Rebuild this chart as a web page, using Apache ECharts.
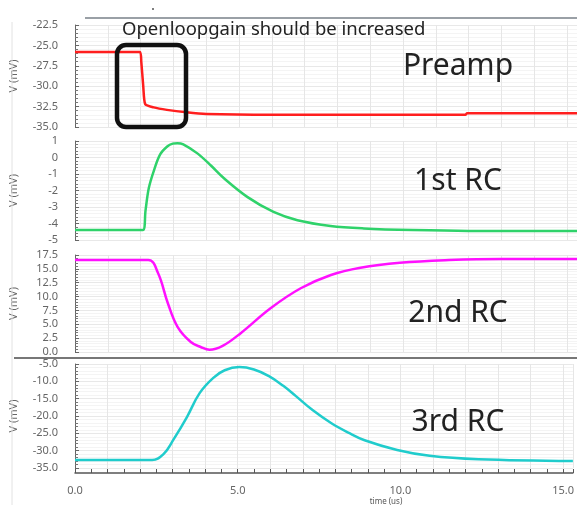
<!DOCTYPE html>
<html><head><meta charset="utf-8">
<script src="https://cdn.jsdelivr.net/npm/echarts@6/dist/echarts.min.js"></script>
<style>html,body{margin:0;padding:0;background:#fff}#c{width:577px;height:505px}</style>
</head><body><div id="c"></div>
<script>
// ---- data ----
const preampT = [0, 1.98, 2.02, 2.08, 2.14, 2.4, 2.8, 3.4, 4.0, 6.0, 11.9, 11.95, 15.3];
const preampV = [-25.8, -25.8, -27.0, -30.0, -32.2, -32.6, -32.9, -33.2, -33.4, -33.5, -33.5, -33.3, -33.3];
const rc1T = [0, 2.07, 2.15, 2.25, 2.41, 2.6, 2.82, 2.98, 3.12, 3.3, 3.73, 4.15, 4.54, 5.26, 6.05, 6.78, 7.79, 8.8, 10.3, 12, 15.3];
const rc1V = [-4.4, -4.4, -3.2, -1.85, -0.76, 0.2, 0.68, 0.84, 0.87, 0.8, 0.25, -0.5, -1.26, -2.4, -3.3, -3.8, -4.15, -4.3, -4.4, -4.45, -4.45];
const rc2T = [0, 2.23, 2.53, 2.83, 3.13, 3.53, 3.83, 4.1, 4.5, 5.05, 5.96, 6.88, 7.8, 8.7, 9.9, 11.4, 13, 15.3];
const rc2V = [16.6, 16.6, 14.25, 8.8, 4.5, 1.8, 0.9, 0.4, 1.1, 3.4, 7.9, 11.5, 13.9, 15.2, 16.1, 16.6, 16.8, 16.8];
const rc3T = [0, 2.37, 2.72, 3.02, 3.44, 3.83, 4.25, 4.6, 5.05, 5.5, 5.96, 6.4, 6.78, 7.3, 7.88, 8.4, 8.9, 9.9, 10.9, 12.4, 15.3];
const rc3V = [-32.7, -32.7, -31, -26.9, -20.3, -13.4, -9.0, -6.8, -5.9, -6.6, -8.5, -11.3, -14.2, -18.3, -22.1, -24.8, -27, -29.8, -31.5, -32.5, -33];
const panelNames = ['Preamp', '1st RC', '2nd RC', '3rd RC'];
const yMins = [-35, -5, 0, -35];
const yMaxs = [-22.5, 1, 17.5, -5];
const yIntervals = [2.5, 1, 2.5, 5];
const yDecimals = [1, 0, 1, 1];
const xMax = 15.3;
const xLabelEvery = 5;
const annotation = 'Openloopgain should be increased';
const xName = 'time (us)';
const yName = 'V (mV)';

// ---- chart ----
const pairs = (t, v) => t.map((x, i) => [x, v[i]]);
const seriesData = [pairs(preampT, preampV), pairs(rc1T, rc1V), pairs(rc2T, rc2V), pairs(rc3T, rc3V)];
const colors = ['#ff1e1e', '#2fd26a', '#ff10ff', '#20cccc'];
const smooths = [0.2, 0.35, 0.4, 0.4];
const grids = [
  {left: 74, right: 0, top: 25, height: 102},
  {left: 74, right: 0, top: 141, height: 99},
  {left: 74, right: 0, top: 255, height: 97},
  {left: 74, right: 0, top: 364, height: 104}
];
const font = 'Noto Sans';
const xAxes = grids.map((g, i) => ({
  type: 'value', gridIndex: i, min: 0, max: xMax, interval: 1,
  show: true, offset: i === 3 ? 5 : 0,
  axisLine: {show: i === 3, onZero: false, lineStyle: {color: '#555', width: 1.5}},
  axisTick: {show: i === 3, inside: true, length: 4, lineStyle: {color: '#555'}},
  minorTick: {show: i === 3, splitNumber: 2, length: 4, lineStyle: {color: '#555'}},
  axisLabel: {show: i === 3, margin: 12, color: '#666', fontSize: 11, fontFamily: font,
    showMaxLabel: false,
    formatter: v => (Math.abs(v % xLabelEvery) < 1e-9 ? v.toFixed(1) : '')},
  splitLine: {show: true, lineStyle: {color: '#e6e6e6', width: 1}},
  minorSplitLine: {show: false}
}));
const yAxes = grids.map((g, i) => ({
  type: 'value', gridIndex: i, min: yMins[i], max: yMaxs[i], interval: yIntervals[i],
  offset: 12,
  name: yName, nameLocation: 'middle', nameGap: 44, nameRotate: 90,
  nameTextStyle: {color: '#666', fontSize: 11, fontFamily: font},
  axisLine: {show: true, lineStyle: {color: '#666', width: 1}},
  axisTick: {show: true, inside: true, length: 4, lineStyle: {color: '#666'}},
  minorTick: {show: true, splitNumber: 5, length: 3, lineStyle: {color: '#777'}},
  axisLabel: {margin: 5, color: '#666', fontSize: 11, fontFamily: font,
    formatter: v => v.toFixed(yDecimals[i])},
  splitLine: {show: true, lineStyle: {color: '#e8e8e8'}},
  minorSplitLine: {show: true, lineStyle: {color: '#f4f4f4'}}
}));
const series = seriesData.map((d, i) => ({
  type: 'line', xAxisIndex: i, yAxisIndex: i, data: d, showSymbol: false,
  smooth: smooths[i], lineStyle: {color: colors[i], width: 2.5}, itemStyle: {color: colors[i]},
  silent: true, clip: true
}));
const titleY = [66, 181, 313, 422];
const graphics = [
  {type: 'line', shape: {x1: 12, y1: 22, x2: 12, y2: 505}, style: {stroke: '#e2e2e2', lineWidth: 1}, z: 1},
  {type: 'line', shape: {x1: 85, y1: 18, x2: 577, y2: 18}, style: {stroke: '#9aa0a6', lineWidth: 2}},
  {type: 'circle', shape: {cx: 153, cy: 9, r: 1}, style: {fill: '#555'}},
  {type: 'line', shape: {x1: 14, y1: 358, x2: 577, y2: 358}, style: {stroke: '#777', lineWidth: 2}, z: 10},
  {type: 'rect', shape: {x: 117, y: 45, width: 69, height: 82, r: 9}, style: {fill: 'none', stroke: '#111', lineWidth: 4.5}, z: 20},
  {type: 'text', x: 122, y: 30, style: {text: annotation, fontSize: 18.5, fill: '#222', fontFamily: font, textVerticalAlign: 'middle'}, z: 20},
  {type: 'text', x: 386, y: 502, style: {text: xName, fontSize: 8, fill: '#555', fontFamily: font, textAlign: 'center', textVerticalAlign: 'middle'}}
];
panelNames.forEach((n, i) => {
  graphics.push({type: 'text', x: 458, y: titleY[i], z: 20,
    style: {text: n, fontSize: 30, fill: '#222', fontFamily: font, textAlign: 'center', textVerticalAlign: 'middle'}});
});
const chart = echarts.init(document.getElementById('c'), null, {renderer: 'canvas'});
chart.setOption({
  animation: false,
  backgroundColor: '#fff',
  grid: grids,
  xAxis: xAxes,
  yAxis: yAxes,
  series: series,
  graphic: graphics
});
</script></body></html>
